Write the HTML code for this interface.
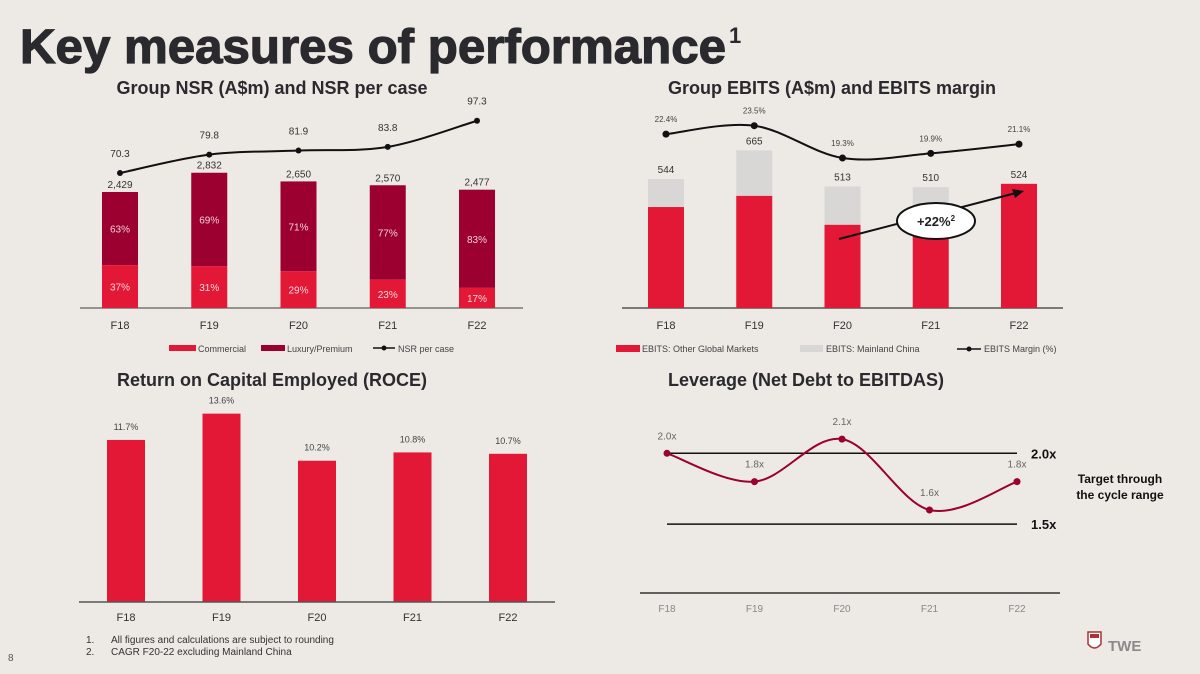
<!DOCTYPE html>
<html><head><meta charset="utf-8"><style>
html,body{margin:0;padding:0;background:#ede9e4;}
body{width:1200px;height:669px;overflow:hidden;position:relative;font-family:"Liberation Sans",sans-serif;}
svg text{font-family:"Liberation Sans",sans-serif;}
</style></head><body>
<svg id="s" width="1200" height="669" viewBox="0 0 1200 669" xmlns="http://www.w3.org/2000/svg">
<rect width="1200" height="669" fill="#ede9e4"/>
<text x="20" y="63" font-size="48" font-weight="bold" fill="#2a2a2e" textLength="706" lengthAdjust="spacingAndGlyphs" stroke="#2a2a2e" stroke-width="1.2">Key measures of performance</text>
<text x="729" y="43" font-size="22" font-weight="bold" fill="#2a2a2e">1</text>
<text x="272" y="94" text-anchor="middle" font-size="18" font-weight="bold" fill="#2a2a2e">Group NSR (A$m) and NSR per case</text>
<text x="832" y="94" text-anchor="middle" font-size="18" font-weight="bold" fill="#2a2a2e">Group EBITS (A$m) and EBITS margin</text>
<text x="272" y="386" text-anchor="middle" font-size="18" font-weight="bold" fill="#2a2a2e">Return on Capital Employed (ROCE)</text>
<text x="806" y="386" text-anchor="middle" font-size="18" font-weight="bold" fill="#2a2a2e">Leverage (Net Debt to EBITDAS)</text>
<g id="g1"></g><g id="g2"></g><g id="g3"></g><g id="g4"></g>
<text x="86" y="643" font-size="10" fill="#333">1.</text>
<text x="111" y="643" font-size="10" fill="#333">All figures and calculations are subject to rounding</text>
<text x="86" y="655" font-size="10" fill="#333">2.</text>
<text x="111" y="655" font-size="10" fill="#333">CAGR F20-22 excluding Mainland China</text>
<text x="8" y="661" font-size="10" fill="#555">8</text>
<g>
<path d="M1088 632 h13 v12 q-6.5 8 -13 0 z" fill="#fff" stroke="#a33" stroke-width="1.5"/>
<rect x="1090" y="634" width="9" height="4" fill="#a33"/>
<text x="1108" y="651" font-size="15" font-weight="bold" fill="#8a8a8a">TWE</text>
</g>
</svg>
<script>
const NS="http://www.w3.org/2000/svg";
function el(p,tag,attrs){const e=document.createElementNS(NS,tag);for(const k in attrs)e.setAttribute(k,attrs[k]);p.appendChild(e);return e;}
function txt(p,x,y,s,size,fill,anchor,weight){const t=el(p,'text',{x:x,y:y,'font-size':size,fill:fill,'text-anchor':anchor||'middle','font-weight':weight||'normal'});t.textContent=s;return t;}
function smooth(pts){let d='M'+pts[0][0]+' '+pts[0][1];for(let i=0;i<pts.length-1;i++){const p0=pts[i-1]||pts[i],p1=pts[i],p2=pts[i+1],p3=pts[i+2]||p2;const c1=[p1[0]+(p2[0]-p0[0])/6,p1[1]+(p2[1]-p0[1])/6],c2=[p2[0]-(p3[0]-p1[0])/6,p2[1]-(p3[1]-p1[1])/6];d+=' C'+c1+' '+c2+' '+p2;}return d;}

const categories=['F18','F19','F20','F21','F22'];
// Chart 1: NSR
const nsrTotal=[2429,2832,2650,2570,2477];
const nsrCommercialPct=[37,31,29,23,17];
const nsrLuxuryPct=[63,69,71,77,83];
const nsrPerCase=[70.3,79.8,81.9,83.8,97.3];
// Chart 2: EBITS
const ebitsTotal=[544,665,513,510,524];
const ebitsOther=[426,473,351,430,524];
const ebitsMargin=[22.4,23.5,19.3,19.9,21.1];
const ebitsMarginLabels=['22.4%','23.5%','19.3%','19.9%','21.1%'];
// Chart 3: ROCE
const roce=[11.7,13.6,10.2,10.8,10.7];
// Chart 4: leverage
const leverage=[2.0,1.8,2.1,1.6,1.8];
const leverageTargets=[2.0,1.5];

// ---- Chart 1
(function(){
const g=document.getElementById('g1');
const x=i=>120+i*89.25, base=308, y=v=>base-v*0.04776, yl=v=>309.2-v*1.937, bw=36;
el(g,'line',{x1:80,x2:523,y1:base,y2:base,stroke:'#777','stroke-width':1.5});
categories.forEach((c,i)=>{
 const top=y(nsrTotal[i]), h=base-top, hc=h*nsrCommercialPct[i]/100;
 let r=el(g,'rect',{x:x(i)-bw/2,y:top,width:bw,height:h-hc,fill:'#9b0030'});
 
 r=el(g,'rect',{x:x(i)-bw/2,y:base-hc,width:bw,height:hc,fill:'#e31837'});
 
 txt(g,x(i),top-4,nsrTotal[i].toLocaleString('en-US'),10,'#333');
 txt(g,x(i),top+(h-hc)/2+4,nsrLuxuryPct[i]+'%',10,'#f4d0d8');
 txt(g,x(i),base-hc/2+4,nsrCommercialPct[i]+'%',10,'#f8d6da');
 txt(g,x(i),329,c,11,'#333');
});
const pts=nsrPerCase.map((v,i)=>[x(i),yl(v)]);
let p=el(g,'path',{d:smooth(pts),fill:'none',stroke:'#111','stroke-width':2});

pts.forEach((q,i)=>{el(g,'circle',{cx:q[0],cy:q[1],r:3,fill:'#111'});txt(g,q[0],q[1]-16,nsrPerCase[i].toFixed(1),10,'#333');});
el(g,'rect',{x:169,y:345,width:27,height:6,fill:'#e31837'});txt(g,198,352,'Commercial',9,'#444','start');
el(g,'rect',{x:261,y:345,width:24,height:6,fill:'#9b0030'});txt(g,287,352,'Luxury/Premium',9,'#444','start');
el(g,'line',{x1:373,x2:395,y1:348,y2:348,stroke:'#111','stroke-width':1.5});el(g,'circle',{cx:384,cy:348,r:2.5,fill:'#111'});
txt(g,398,352,'NSR per case',9,'#444','start');
})();

// ---- Chart 2
(function(){
const g=document.getElementById('g2');
const x=i=>666+i*88.25, base=308, y=v=>base-v*0.237, ym=v=>158-(v-19.3)*7.69, bw=36;
el(g,'line',{x1:622,x2:1063,y1:base,y2:base,stroke:'#555','stroke-width':1.5});
categories.forEach((c,i)=>{
 const top=y(ebitsTotal[i]), to=y(ebitsOther[i]);
 let r=el(g,'rect',{x:x(i)-bw/2,y:top,width:bw,height:to-top,fill:'#d9d7d5'});
 
 r=el(g,'rect',{x:x(i)-bw/2,y:to,width:bw,height:base-to,fill:'#e31837'});
 
 txt(g,x(i),top-6,String(ebitsTotal[i]),10,'#333');
 txt(g,x(i),329,c,11,'#333');
});
const pts=ebitsMargin.map((v,i)=>[x(i),ym(v)]);
let p=el(g,'path',{d:smooth(pts),fill:'none',stroke:'#111','stroke-width':2});

pts.forEach((q,i)=>{el(g,'circle',{cx:q[0],cy:q[1],r:3.5,fill:'#111'});txt(g,q[0],q[1]-12,ebitsMarginLabels[i],8,'#444');});
el(g,'line',{x1:839,y1:239,x2:1016,y2:193,stroke:'#111','stroke-width':2});
el(g,'path',{d:'M1024 191 L1012 189 L1015 198 Z',fill:'#111'});
el(g,'ellipse',{cx:936,cy:221,rx:39,ry:18,fill:'#fff',stroke:'#111','stroke-width':2});
const t=txt(g,936,226,'+22%',13,'#222','middle','bold');const s=el(t,'tspan',{'font-size':8,dy:-5});s.textContent='2';
el(g,'rect',{x:616,y:345,width:24,height:7,fill:'#e31837'});txt(g,642,352,'EBITS: Other Global Markets',9,'#444','start');
el(g,'rect',{x:800,y:345,width:23,height:7,fill:'#d9d7d5'});txt(g,826,352,'EBITS: Mainland China',9,'#444','start');
el(g,'line',{x1:957,x2:981,y1:349,y2:349,stroke:'#111','stroke-width':1.5});el(g,'circle',{cx:969,cy:349,r:2.5,fill:'#111'});
txt(g,984,352,'EBITS Margin (%)',9,'#444','start');
})();

// ---- Chart 3
(function(){
const g=document.getElementById('g3');
const x=i=>126+i*95.5, base=602, y=v=>base-v*13.85, bw=38;
categories.forEach((c,i)=>{
 const top=y(roce[i]);
 const r=el(g,'rect',{x:x(i)-bw/2,y:top,width:bw,height:base-top,fill:'#e31837'});
 
 txt(g,x(i),top-10,roce[i].toFixed(1)+'%',9,'#444');
 txt(g,x(i),621,c,11,'#333');
});
el(g,'line',{x1:79,x2:555,y1:base,y2:base,stroke:'#555','stroke-width':1.5});
})();

// ---- Chart 4
(function(){
const g=document.getElementById('g4');
const x=i=>667+i*87.5, y=v=>453.3-(v-2.0)*141.7;
el(g,'line',{x1:640,x2:1060,y1:593,y2:593,stroke:'#333','stroke-width':1.5});
leverageTargets.forEach(v=>{
 const l=el(g,'line',{x1:667,x2:1017,y1:y(v),y2:y(v),stroke:'#111','stroke-width':1.5});
 
 txt(g,1031,y(v)+5,v.toFixed(1)+'x',13,'#111','start','bold');
});
txt(g,1120,483,'Target through',12,'#111','middle','bold');
txt(g,1120,499,'the cycle range',12,'#111','middle','bold');
const pts=leverage.map((v,i)=>[x(i),y(v)]);
const p=el(g,'path',{d:smooth(pts),fill:'none',stroke:'#9b0030','stroke-width':2});

pts.forEach((q,i)=>{el(g,'circle',{cx:q[0],cy:q[1],r:3.5,fill:'#9b0030'});txt(g,q[0],q[1]-14,leverage[i].toFixed(1)+'x',10,'#666');});
categories.forEach((c,i)=>txt(g,x(i),612,c,10,'#888'));
})();
</script>
</body></html>
